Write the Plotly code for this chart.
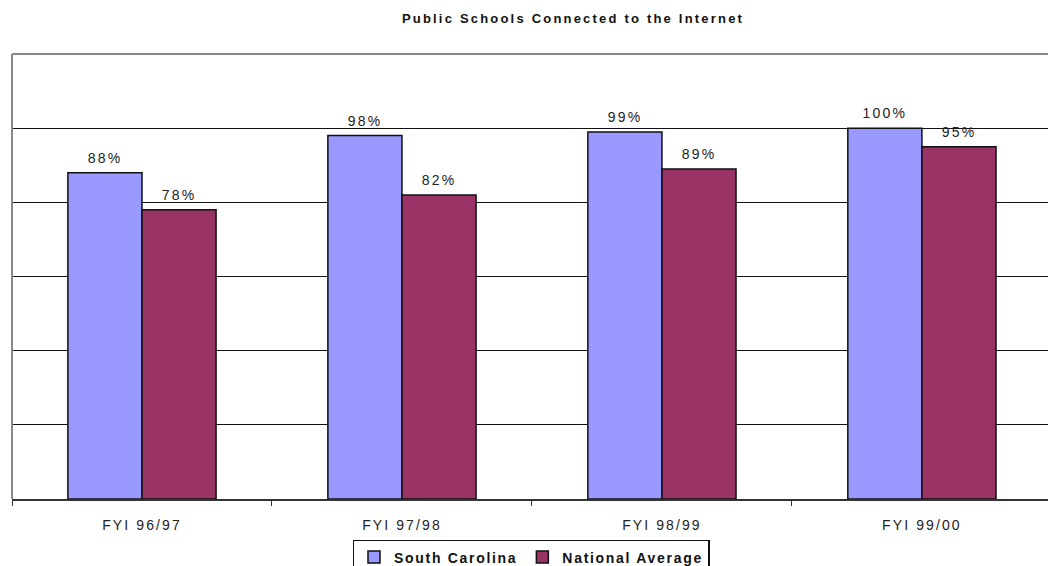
import plotly.graph_objects as go

categories = ["FYI 96/97", "FYI 97/98", "FYI 98/99", "FYI 99/00"]
south_carolina = [88, 98, 99, 100]
national_average = [78, 82, 89, 95]

FONT = "Liberation Sans, Arial, sans-serif"
BAR_OFFSET_PX = 37  # half a bar width: label centred over each bar of the pair

fig = go.Figure()
fig.add_trace(go.Bar(
    name="<b>South Carolina</b>", x=categories, y=south_carolina,
    marker=dict(color="#9999FF", line=dict(color="#111111", width=1.5)),
))
fig.add_trace(go.Bar(
    name="<b>National Average</b>", x=categories, y=national_average,
    marker=dict(color="#993366", line=dict(color="#111111", width=1.5)),
))

# value labels above the bars
for series, shift in ((south_carolina, -BAR_OFFSET_PX), (national_average, BAR_OFFSET_PX)):
    for cat, val in zip(categories, series):
        fig.add_annotation(x=cat, y=val, text=f"{val}%", showarrow=False,
                           xshift=shift, yanchor="bottom", yshift=5,
                           font=dict(family=FONT, size=14, color="#222222"))

W, H = 1048, 566
fig.update_layout(
    width=W, height=H,
    margin=dict(l=12, r=0, t=54, b=67, autoexpand=False),
    paper_bgcolor="white", plot_bgcolor="white",
    barmode="group", bargap=0.43, bargroupgap=0,
    title=dict(text="<b>Public Schools Connected to the Internet</b>",
               x=573 / W, xanchor="center", y=1 - 18 / H, yanchor="middle",
               yref="container", font=dict(family=FONT, size=13, color="#111111")),
    showlegend=True,
    legend=dict(orientation="h", x=(531 - 12) / 1036, xanchor="center", y=-0.092, yanchor="top",
                bordercolor="#111111", borderwidth=1.5, bgcolor="white",
                font=dict(family=FONT, size=14, color="#111111"),
                entrywidth=20, itemwidth=30, traceorder="normal"),
)
fig.update_xaxes(
    type="category", range=[-0.5, 3.485], tickson="boundaries",
    showline=True, linecolor="#333333", linewidth=1.5,
    ticks="outside", ticklen=5, tickcolor="#333333",
    ticklabelstandoff=12,
    tickfont=dict(family=FONT, size=14, color="#222222"),
    showgrid=False, fixedrange=True,
)
fig.update_yaxes(
    range=[0, 120], tickvals=[20, 40, 60, 80, 100], showticklabels=False,
    showgrid=True, gridcolor="#111111", gridwidth=1,
    zeroline=False, showline=False, fixedrange=True,
)
# plot-area frame (left and top) in grey
fig.add_shape(type="line", xref="paper", yref="paper", x0=0, x1=0, y0=0, y1=1,
              line=dict(color="#888888", width=2))
fig.add_shape(type="line", xref="paper", yref="paper", x0=0, x1=1, y0=1, y1=1,
              line=dict(color="#888888", width=2))

post = """
document.body.style.margin = '0';
document.body.style.overflow = 'hidden';
var gd = document.getElementById('{plot_id}');
var sp = function(){
  var set = function(sel, v){gd.querySelectorAll(sel).forEach(function(e){e.style.letterSpacing=v;});};
  set('.gtitle', '2.2px');
  set('.xtick text', '2.1px');
  set('.annotation-text', '2.2px');
  set('.legendtext', '1.7px');
};
sp();
Plotly.relayout(gd, {'legend.entrywidth': 0}).then(sp);
"""
fig.write_html("out.html", post_script=post, config={"displayModeBar": False})
